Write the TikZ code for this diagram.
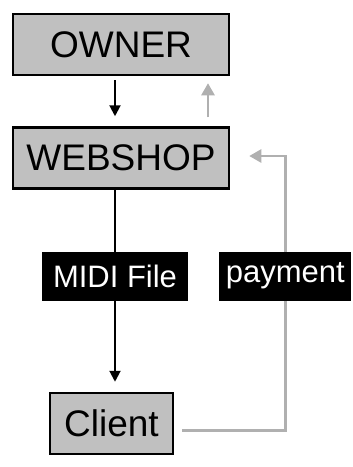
\documentclass[tikz,border=0pt]{standalone}
\usepackage{fontspec}
\setmainfont{Liberation Sans}
\usepackage{tikz}
\usetikzlibrary{arrows.meta, positioning}
\definecolor{boxgray}{RGB}{192, 192, 192}
\definecolor{linegray}{RGB}{176, 176, 176}

\begin{document}
\begin{tikzpicture}[
    x=1pt, y=-1pt,
    box/.style={rectangle, draw=black, fill=boxgray, line width=2.5pt,
        minimum width=216pt, minimum height=61pt, inner sep=0pt,
        font=\fontsize{37}{42}\selectfont},
    tag/.style={rectangle, fill=black, text=white, minimum height=49pt,
        inner sep=0pt, font=\fontsize{31}{36}\selectfont},
    flow/.style={line width=2pt, -{Triangle[length=11pt,width=11pt]}, black},
    back/.style={line width=2.5pt, -{Triangle[length=12pt,width=13pt]}, linegray}
]
    \useasboundingbox (0,0) rectangle (353,467);

    % Boxes
    \node[box] (owner) at (121,44.5) {OWNER};
    \node[box, below=50pt of owner] (webshop) {WEBSHOP};
    \node[box, below=202pt of webshop, xshift=-9.5pt, minimum width=123pt] (client) {Client};

    % Turning point of the payment line
    \coordinate[right=55pt of webshop.east, yshift=2pt] (bend);

    % Arrows
    \draw[flow] ([xshift=-6pt,yshift=-4pt]owner.south) -- ([xshift=-6pt,yshift=10pt]webshop.north);
    \draw[back] ([xshift=87pt,yshift=9pt]webshop.north) -- ([xshift=87pt,yshift=-7pt]owner.south);
    \draw[flow] ([xshift=-6pt]webshop.south) -- node[tag, pos=0.45, minimum width=146pt] (midi) {MIDI File}
        ([xshift=3.5pt,yshift=10pt]client.north);
    \draw[back] ([xshift=8pt,yshift=-7pt]client.east) -| (bend) -- ([xshift=19pt,yshift=2pt]webshop.east);

    % Label on the payment line
    \node[tag, minimum width=132pt] (payment) at (bend |- midi) {payment};
\end{tikzpicture}
\end{document}
